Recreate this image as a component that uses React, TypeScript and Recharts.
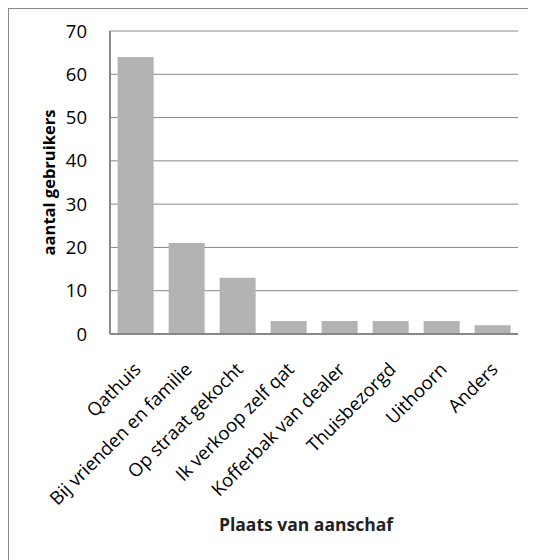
import React from 'react';
import { BarChart, Bar, XAxis, YAxis, CartesianGrid, Label } from 'recharts';

const categories = [
  'Qathuis',
  'Bij vrienden en familie',
  'Op straat gekocht',
  'Ik verkoop zelf qat',
  'Kofferbak van dealer',
  'Thuisbezorgd',
  'Uithoorn',
  'Anders',
];
const users = [64, 21, 13, 3, 3, 3, 3, 2];
const yTicks = [0, 10, 20, 30, 40, 50, 60, 70];

const data = categories.map((name, i) => ({ name, value: users[i] }));

const FONT = '"Open Sans", sans-serif';

const SlantTick = (props: any) => {
  const { x, y, payload } = props;
  return (
    <g transform={`translate(${x + 2},${y + 14})`}>
      <text
        transform="rotate(-45)"
        textAnchor="end"
        dy="0.35em"
        fontSize={18.5}
        fontFamily={FONT}
        fill="#000"
      >
        {payload.value}
      </text>
    </g>
  );
};

const App: React.FC = () => {
  return (
    <div
      style={{
        width: 528,
        height: 552,
        borderLeft: '1px solid #888',
        borderTop: '1px solid #888',
        boxSizing: 'border-box',
        overflow: 'hidden',
      }}
    >
      <BarChart
        width={527}
        height={551}
        data={data}
        margin={{ top: 22, right: 18, bottom: 16, left: 20 }}
        barCategoryGap="15%"
      >
        <CartesianGrid vertical={false} stroke="#888" strokeWidth={1} />
        <XAxis
          dataKey="name"
          interval={0}
          tick={<SlantTick />}
          tickLine={false}
          axisLine={{ stroke: '#888', strokeWidth: 2 }}
          height={210}
          tickMargin={12}
        >
          <Label
            value="Plaats van aanschaf"
            position="insideBottom"
            offset={13}
            dx={-8}
            style={{ fontFamily: FONT, fontSize: 17.5, fontWeight: 700, fill: '#222' }}
          />
        </XAxis>
        <YAxis
          domain={[0, 70]}
          ticks={yTicks}
          interval={0}
          tickLine={false}
          axisLine={{ stroke: '#888', strokeWidth: 2 }}
          width={81}
          tickMargin={17}
          tick={{ fontFamily: FONT, fontSize: 18.5, fill: '#000' }}
        >
          <Label
            value="aantal gebruikers"
            angle={-90}
            position="insideLeft"
            offset={20}
            style={{ textAnchor: 'middle', fontFamily: FONT, fontSize: 16.5, fontWeight: 700, fill: '#000' }}
          />
        </YAxis>
        <Bar dataKey="value" fill="#b3b3b3" isAnimationActive={false} />
      </BarChart>
    </div>
  );
};

export default App;
